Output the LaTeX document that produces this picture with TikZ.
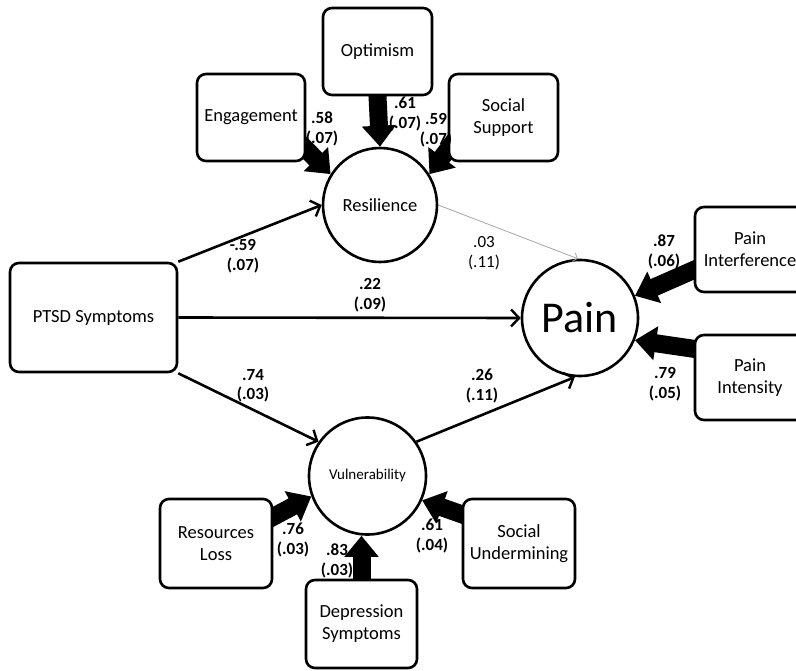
\documentclass[tikz,border=0pt]{standalone}
\usepackage{fontspec}
\setmainfont{Carlito}
\usetikzlibrary{arrows.meta}
\pgfdeclarelayer{back}
\pgfsetlayers{back,main}

\begin{document}
\begin{tikzpicture}[x=1pt,y=-1pt,
    box/.style={draw, line width=2.6pt, rounded corners=9pt, fill=white, align=center,
      font=\fontsize{18.5}{22}\selectfont},
    latent/.style={draw, circle, line width=2.6pt, fill=white, inner sep=0pt},
    coef/.style={align=center, font=\fontsize{17}{19.5}\selectfont\bfseries},
    effect/.style={line width=2.6pt, -{Straight Barb[length=8pt,width=17pt,line width=2.4pt]}},
    loading/.style={line width=18pt, -{Triangle[length=21pt,width=33pt]}, shorten <=-14pt}]
  \useasboundingbox (0,0) rectangle (796,671);

  % Latent variables
  \node[latent, minimum size=114pt] (res) at (380,205) {\fontsize{18.5}{22}\selectfont Resilience};
  \node[latent, minimum size=116pt] (pain) at (580,318) {\fontsize{44}{50}\selectfont Pain};
  \node[latent, minimum size=117pt] (vul) at (367.5,476) {\fontsize{15}{18}\selectfont Vulnerability};

  % Indicators
  \node[box, minimum width=109pt, minimum height=87pt] (opt) at (377.5,51.5) {Optimism};
  \node[box, minimum width=108pt, minimum height=87pt] (eng) at (251,117.5) {Engagement};
  \node[box, minimum width=109pt, minimum height=87pt] (sup) at (503.5,117.5) {Social\\Support};
  \node[box, minimum width=167pt, minimum height=109pt] (ptsd) at (93.5,317.5) {PTSD Symptoms};
  \node[box, minimum width=110pt, minimum height=85pt] (pint) at (750,249.5) {Pain\\Interference};
  \node[box, minimum width=110pt, minimum height=85pt] (pins) at (750,377.5) {Pain\\Intensity};
  \node[box, minimum width=112pt, minimum height=89pt] (rl) at (216,543.5) {Resources\\Loss};
  \node[box, minimum width=111pt, minimum height=88pt] (dep) at (361.5,624) {Depression\\Symptoms};
  \node[box, minimum width=112pt, minimum height=89pt] (su) at (519,543.5) {Social\\Undermining};

  % Loadings
  \begin{pgfonlayer}{back}
    \draw[loading] (opt.south) -- (res.north);
    \draw[loading] (eng.-30) -- (res.148);
    \draw[loading] (sup.210) -- (res.32);
    \draw[loading] (pint.200) -- (pain.22);
    \draw[loading] (pins.153) -- (pain.-22);
    \draw[loading] (rl.25) -- (vul.200);
    \draw[loading] (dep.north) -- (vul.south -| dep.north);
    \draw[loading] (su.153) -- (vul.-24);
  \end{pgfonlayer}

  % Structural paths
  \draw[effect] (ptsd.north east) -- (res.west);
  \draw[effect] (ptsd.east) -- (pain.west);
  \draw[effect] (ptsd.south east) -- (vul.145);
  \draw[effect] (vul.35) -- (pain.265);
  \draw[gray!70, line width=0.8pt, -{Straight Barb[length=4pt,width=9pt]}] (res.east) -- (pain.92);

  % Coefficients
  \node[coef] (c1) at (322,129) {.58\\(.07)};
  \node[coef] (c2) at (405,114) {.61\\(.07)};
  \node[coef] (c3) at (436,130) {.59\\(.07)};
  \node[coef] (c4) at (243,256) {-.59\\(.07)};
  \node[coef] (c5) at (370,295) {.22\\(.09)};
  \node[coef, font=\fontsize{17}{19.5}\selectfont] (c6) at (484,253) {.03\\(.11)};
  \node[coef] (c7) at (253,386) {.74\\(.03)};
  \node[coef] (c8) at (482,386) {.26\\(.11)};
  \node[coef] (c9) at (664,252) {.87\\(.06)};
  \node[coef] (c10) at (665,384) {.79\\(.05)};
  \node[coef] (c11) at (293,540) {.76\\(.03)};
  \node[coef] (c12) at (337,561) {.83\\(.03)};
  \node[coef] (c13) at (432,536) {.61\\(.04)};
\end{tikzpicture}
\end{document}
